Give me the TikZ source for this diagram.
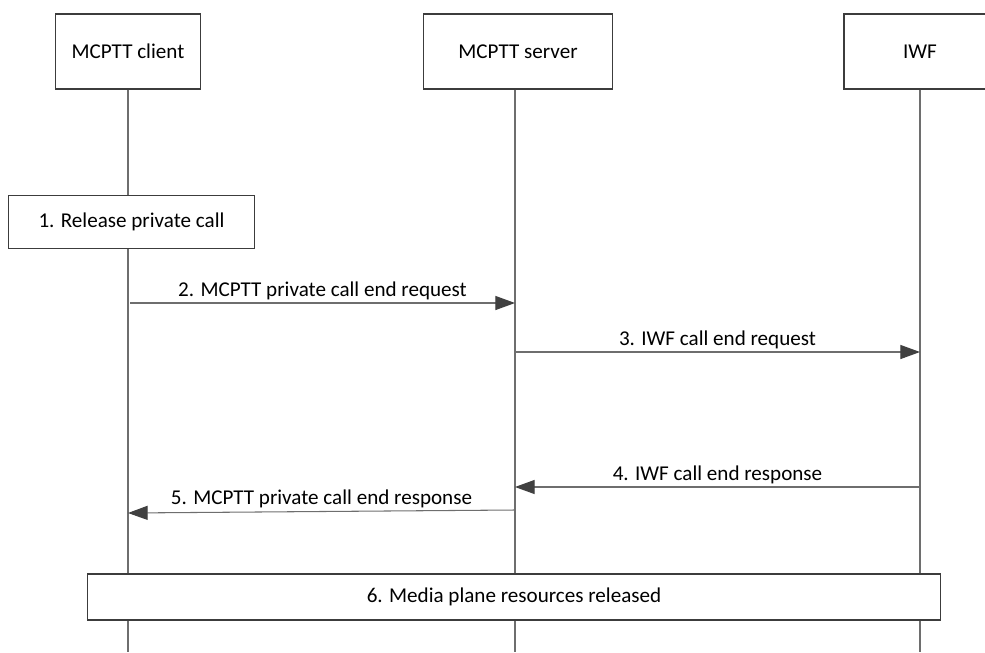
\documentclass[tikz,border=0pt]{standalone}
\usepackage{fontspec}
\setmainfont{Carlito}
\usepackage{tikz}
\usetikzlibrary{arrows.meta, positioning}
\definecolor{boxline}{RGB}{60,60,60}
\definecolor{msgline}{RGB}{110,110,110}
\definecolor{tipgray}{RGB}{64,64,64}

\begin{document}
\begin{tikzpicture}[
  x=0.025cm, y=-0.025cm,
  entity/.style={rectangle, draw=boxline, fill=white, line width=0.75pt,
                 minimum height=1.875cm, inner sep=0pt,
                 font=\fontsize{15}{18}\selectfont},
  stepbox/.style={rectangle, draw=boxline, fill=white, line width=0.75pt,
                  inner sep=0pt, font=\fontsize{15}{18}\selectfont},
  lifeline/.style={draw=msgline, line width=0.75pt},
  msg/.style={-{Triangle[length=14pt, width=10pt, color=tipgray]}, draw=msgline, line width=0.75pt},
  msglabel/.style={above, inner sep=0pt, text depth=0pt, yshift=4.5pt,
                   font=\fontsize{15}{18}\selectfont},
]
\useasboundingbox (0,0) rectangle (985,652);
\clip (0,0) rectangle (985,652);

% Entities
\node[entity, minimum width=3.625cm] (client) at (128,51.5) {MCPTT client};
\node[entity, minimum width=4.725cm] (server) at (518,51.5) {MCPTT server};
\node[entity, minimum width=3.8cm] (iwf) at (920,51.5) {IWF};

% Lifelines
\coordinate (clientend) at (128,652);
\coordinate (serverend) at (515,652);
\coordinate (iwfend) at (920,652);
\draw[lifeline] (client.south) -- (clientend);
\draw[lifeline] (client.south -| serverend) -- (serverend);
\draw[lifeline] (iwf.south) -- (iwfend);

% Steps
\node[stepbox, minimum width=6.125cm, minimum height=1.325cm] (release) at (131.5,222) {1. Release private call};

\coordinate (endreqa) at (130,303);
\coordinate (endreqb) at (515,303);
\coordinate (iwfreqa) at (515,352);
\coordinate (iwfreqb) at (920,352);
\coordinate (iwfrspa) at (920,487);
\coordinate (iwfrspb) at (515,487);
\coordinate (endrspa) at (515,510);
\coordinate (endrspb) at (128,513);

\draw[msg] (endreqa) -- node[msglabel] {2. MCPTT private call end request} (endreqb);
\draw[msg] (iwfreqa) -- node[msglabel] {3. IWF call end request} (iwfreqb);
\draw[msg] (iwfrspa) -- node[msglabel] {4. IWF call end response} (iwfrspb);
\draw[msg] (endrspa) -- node[msglabel] {5. MCPTT private call end response} (endrspb);

\node[stepbox, minimum width=21.3cm, minimum height=1.15cm] (media) at (514,597) {6. Media plane resources released};

\end{tikzpicture}
\end{document}
